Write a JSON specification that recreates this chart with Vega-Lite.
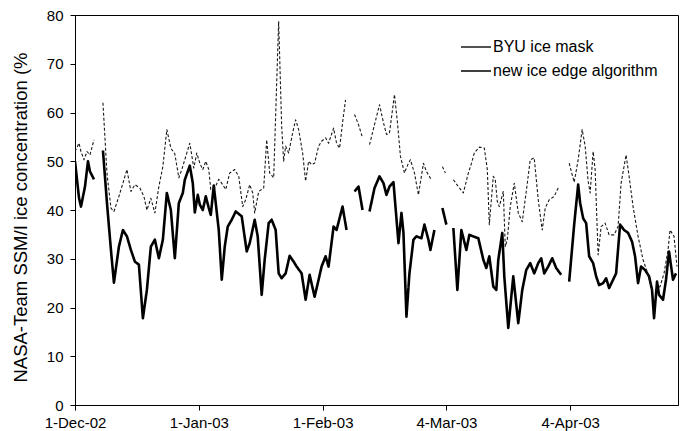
{
  "$schema": "https://vega.github.io/schema/vega-lite/v6.json",
  "width": 603,
  "height": 390,
  "autosize": {"type": "none"},
  "padding": {"left": 75, "top": 15, "right": 2, "bottom": 26},
  "background": "white",
  "config": {
    "font": "Liberation Sans",
    "view": {"stroke": "#000", "strokeWidth": 1},
    "axis": {
      "domainColor": "#000",
      "tickColor": "#000",
      "labelColor": "#000",
      "titleColor": "#000",
      "tickSize": 5,
      "labelFont": "Liberation Sans",
      "titleFont": "Liberation Sans",
      "labelFontSize": 15,
      "titleFontSize": 18.5,
      "titleFontWeight": "normal",
      "grid": false
    }
  },
  "data": {
    "values": [
      {"date": "2002-12-01T00:00", "series": "new ice edge algorithm", "value": 50},
      {"date": "2002-12-02T00:00", "series": "new ice edge algorithm", "value": 42.5},
      {"date": "2002-12-02T12:00", "series": "new ice edge algorithm", "value": 40.7},
      {"date": "2002-12-03T12:00", "series": "new ice edge algorithm", "value": 44.8},
      {"date": "2002-12-04T06:00", "series": "new ice edge algorithm", "value": 50},
      {"date": "2002-12-04T18:00", "series": "new ice edge algorithm", "value": 47.9},
      {"date": "2002-12-05T18:00", "series": "new ice edge algorithm", "value": 46.3},
      {"date": "2002-12-07T00:00", "series": "new ice edge algorithm", "value": null},
      {"date": "2002-12-08T00:00", "series": "new ice edge algorithm", "value": 52.2},
      {"date": "2002-12-09T00:00", "series": "new ice edge algorithm", "value": 41.5},
      {"date": "2002-12-10T00:00", "series": "new ice edge algorithm", "value": 31.8},
      {"date": "2002-12-10T18:00", "series": "new ice edge algorithm", "value": 25.1},
      {"date": "2002-12-12T00:00", "series": "new ice edge algorithm", "value": 32.5},
      {"date": "2002-12-13T00:00", "series": "new ice edge algorithm", "value": 35.9},
      {"date": "2002-12-14T00:00", "series": "new ice edge algorithm", "value": 34.6},
      {"date": "2002-12-15T00:00", "series": "new ice edge algorithm", "value": 31.8},
      {"date": "2002-12-16T00:00", "series": "new ice edge algorithm", "value": 29.4},
      {"date": "2002-12-17T00:00", "series": "new ice edge algorithm", "value": 28.8},
      {"date": "2002-12-18T00:00", "series": "new ice edge algorithm", "value": 17.8},
      {"date": "2002-12-19T00:00", "series": "new ice edge algorithm", "value": 23.6},
      {"date": "2002-12-20T00:00", "series": "new ice edge algorithm", "value": 32.5},
      {"date": "2002-12-21T00:00", "series": "new ice edge algorithm", "value": 33.9},
      {"date": "2002-12-22T00:00", "series": "new ice edge algorithm", "value": 30.1},
      {"date": "2002-12-23T00:00", "series": "new ice edge algorithm", "value": 33.9},
      {"date": "2002-12-24T00:00", "series": "new ice edge algorithm", "value": 43.5},
      {"date": "2002-12-25T00:00", "series": "new ice edge algorithm", "value": 40},
      {"date": "2002-12-26T00:00", "series": "new ice edge algorithm", "value": 30.1},
      {"date": "2002-12-27T00:00", "series": "new ice edge algorithm", "value": 41.4},
      {"date": "2002-12-28T00:00", "series": "new ice edge algorithm", "value": 43.5},
      {"date": "2002-12-28T12:00", "series": "new ice edge algorithm", "value": 46.2},
      {"date": "2002-12-29T18:00", "series": "new ice edge algorithm", "value": 49.1},
      {"date": "2002-12-30T12:00", "series": "new ice edge algorithm", "value": 45.5},
      {"date": "2002-12-31T00:00", "series": "new ice edge algorithm", "value": 39.5},
      {"date": "2002-12-31T18:00", "series": "new ice edge algorithm", "value": 43.1},
      {"date": "2003-01-01T06:00", "series": "new ice edge algorithm", "value": 41.1},
      {"date": "2003-01-02T00:00", "series": "new ice edge algorithm", "value": 40},
      {"date": "2003-01-02T18:00", "series": "new ice edge algorithm", "value": 42.8},
      {"date": "2003-01-03T12:00", "series": "new ice edge algorithm", "value": 40.4},
      {"date": "2003-01-04T00:00", "series": "new ice edge algorithm", "value": 39},
      {"date": "2003-01-04T18:00", "series": "new ice edge algorithm", "value": 45},
      {"date": "2003-01-06T00:00", "series": "new ice edge algorithm", "value": 35.9},
      {"date": "2003-01-06T18:00", "series": "new ice edge algorithm", "value": 25.7},
      {"date": "2003-01-07T12:00", "series": "new ice edge algorithm", "value": 32.5},
      {"date": "2003-01-08T06:00", "series": "new ice edge algorithm", "value": 36.6},
      {"date": "2003-01-09T06:00", "series": "new ice edge algorithm", "value": 38},
      {"date": "2003-01-10T06:00", "series": "new ice edge algorithm", "value": 39.7},
      {"date": "2003-01-11T18:00", "series": "new ice edge algorithm", "value": 38.7},
      {"date": "2003-01-13T00:00", "series": "new ice edge algorithm", "value": 31.5},
      {"date": "2003-01-13T18:00", "series": "new ice edge algorithm", "value": 33.2},
      {"date": "2003-01-15T00:00", "series": "new ice edge algorithm", "value": 38},
      {"date": "2003-01-15T18:00", "series": "new ice edge algorithm", "value": 34.6},
      {"date": "2003-01-16T18:00", "series": "new ice edge algorithm", "value": 22.6},
      {"date": "2003-01-17T12:00", "series": "new ice edge algorithm", "value": 29.8},
      {"date": "2003-01-18T12:00", "series": "new ice edge algorithm", "value": 37.3},
      {"date": "2003-01-19T06:00", "series": "new ice edge algorithm", "value": 38},
      {"date": "2003-01-20T06:00", "series": "new ice edge algorithm", "value": 35.9},
      {"date": "2003-01-21T00:00", "series": "new ice edge algorithm", "value": 27},
      {"date": "2003-01-21T18:00", "series": "new ice edge algorithm", "value": 26},
      {"date": "2003-01-22T18:00", "series": "new ice edge algorithm", "value": 27},
      {"date": "2003-01-23T18:00", "series": "new ice edge algorithm", "value": 30.6},
      {"date": "2003-01-24T18:00", "series": "new ice edge algorithm", "value": 29.4},
      {"date": "2003-01-25T12:00", "series": "new ice edge algorithm", "value": 28.4},
      {"date": "2003-01-26T18:00", "series": "new ice edge algorithm", "value": 27},
      {"date": "2003-01-27T18:00", "series": "new ice edge algorithm", "value": 21.6},
      {"date": "2003-01-28T18:00", "series": "new ice edge algorithm", "value": 26.7},
      {"date": "2003-01-30T00:00", "series": "new ice edge algorithm", "value": 22.2},
      {"date": "2003-01-31T00:00", "series": "new ice edge algorithm", "value": 25.7},
      {"date": "2003-01-31T18:00", "series": "new ice edge algorithm", "value": 28.4},
      {"date": "2003-02-01T18:00", "series": "new ice edge algorithm", "value": 30.5},
      {"date": "2003-02-02T12:00", "series": "new ice edge algorithm", "value": 28.4},
      {"date": "2003-02-03T18:00", "series": "new ice edge algorithm", "value": 36.6},
      {"date": "2003-02-04T12:00", "series": "new ice edge algorithm", "value": 35.9},
      {"date": "2003-02-06T00:00", "series": "new ice edge algorithm", "value": 40.7},
      {"date": "2003-02-07T00:00", "series": "new ice edge algorithm", "value": 35.9},
      {"date": "2003-02-08T00:00", "series": "new ice edge algorithm", "value": null},
      {"date": "2003-02-09T00:00", "series": "new ice edge algorithm", "value": 43.8},
      {"date": "2003-02-10T00:00", "series": "new ice edge algorithm", "value": 44.8},
      {"date": "2003-02-11T00:00", "series": "new ice edge algorithm", "value": 40},
      {"date": "2003-02-12T00:00", "series": "new ice edge algorithm", "value": null},
      {"date": "2003-02-12T18:00", "series": "new ice edge algorithm", "value": 39.7},
      {"date": "2003-02-14T00:00", "series": "new ice edge algorithm", "value": 44.5},
      {"date": "2003-02-15T06:00", "series": "new ice edge algorithm", "value": 46.9},
      {"date": "2003-02-16T06:00", "series": "new ice edge algorithm", "value": 45.5},
      {"date": "2003-02-17T00:00", "series": "new ice edge algorithm", "value": 43.1},
      {"date": "2003-02-17T18:00", "series": "new ice edge algorithm", "value": 44.8},
      {"date": "2003-02-18T18:00", "series": "new ice edge algorithm", "value": 45.7},
      {"date": "2003-02-19T06:00", "series": "new ice edge algorithm", "value": 40.7},
      {"date": "2003-02-20T00:00", "series": "new ice edge algorithm", "value": 33.2},
      {"date": "2003-02-20T18:00", "series": "new ice edge algorithm", "value": 39.4},
      {"date": "2003-02-21T06:00", "series": "new ice edge algorithm", "value": 35.3},
      {"date": "2003-02-22T00:00", "series": "new ice edge algorithm", "value": 18.1},
      {"date": "2003-02-22T18:00", "series": "new ice edge algorithm", "value": 27},
      {"date": "2003-02-23T18:00", "series": "new ice edge algorithm", "value": 33.9},
      {"date": "2003-02-24T12:00", "series": "new ice edge algorithm", "value": 34.6},
      {"date": "2003-02-25T18:00", "series": "new ice edge algorithm", "value": 34.2},
      {"date": "2003-02-26T12:00", "series": "new ice edge algorithm", "value": 37},
      {"date": "2003-02-27T12:00", "series": "new ice edge algorithm", "value": 33.9},
      {"date": "2003-02-28T00:00", "series": "new ice edge algorithm", "value": 31.8},
      {"date": "2003-03-01T00:00", "series": "new ice edge algorithm", "value": 35.9},
      {"date": "2003-03-02T00:00", "series": "new ice edge algorithm", "value": null},
      {"date": "2003-03-03T00:00", "series": "new ice edge algorithm", "value": 40.4},
      {"date": "2003-03-04T00:00", "series": "new ice edge algorithm", "value": 37},
      {"date": "2003-03-05T00:00", "series": "new ice edge algorithm", "value": null},
      {"date": "2003-03-05T18:00", "series": "new ice edge algorithm", "value": 36.3},
      {"date": "2003-03-06T18:00", "series": "new ice edge algorithm", "value": 23.6},
      {"date": "2003-03-07T18:00", "series": "new ice edge algorithm", "value": 35.9},
      {"date": "2003-03-09T00:00", "series": "new ice edge algorithm", "value": 31.8},
      {"date": "2003-03-09T18:00", "series": "new ice edge algorithm", "value": 34.9},
      {"date": "2003-03-11T00:00", "series": "new ice edge algorithm", "value": 34.5},
      {"date": "2003-03-12T00:00", "series": "new ice edge algorithm", "value": 34.2},
      {"date": "2003-03-13T06:00", "series": "new ice edge algorithm", "value": 29.8},
      {"date": "2003-03-14T00:00", "series": "new ice edge algorithm", "value": 28.1},
      {"date": "2003-03-14T18:00", "series": "new ice edge algorithm", "value": 30.5},
      {"date": "2003-03-15T18:00", "series": "new ice edge algorithm", "value": 24.3},
      {"date": "2003-03-16T12:00", "series": "new ice edge algorithm", "value": 23.6},
      {"date": "2003-03-17T00:00", "series": "new ice edge algorithm", "value": 29.8},
      {"date": "2003-03-18T00:00", "series": "new ice edge algorithm", "value": 35.3},
      {"date": "2003-03-18T12:00", "series": "new ice edge algorithm", "value": 26.4},
      {"date": "2003-03-19T12:00", "series": "new ice edge algorithm", "value": 15.8},
      {"date": "2003-03-20T18:00", "series": "new ice edge algorithm", "value": 26.4},
      {"date": "2003-03-22T00:00", "series": "new ice edge algorithm", "value": 16.8},
      {"date": "2003-03-23T00:00", "series": "new ice edge algorithm", "value": 23.6},
      {"date": "2003-03-24T00:00", "series": "new ice edge algorithm", "value": 27.7},
      {"date": "2003-03-25T00:00", "series": "new ice edge algorithm", "value": 29.1},
      {"date": "2003-03-26T00:00", "series": "new ice edge algorithm", "value": 27},
      {"date": "2003-03-27T00:00", "series": "new ice edge algorithm", "value": 29.1},
      {"date": "2003-03-27T18:00", "series": "new ice edge algorithm", "value": 30.1},
      {"date": "2003-03-28T12:00", "series": "new ice edge algorithm", "value": 27},
      {"date": "2003-03-29T12:00", "series": "new ice edge algorithm", "value": 28.4},
      {"date": "2003-03-30T12:00", "series": "new ice edge algorithm", "value": 30.1},
      {"date": "2003-03-31T12:00", "series": "new ice edge algorithm", "value": 28.1},
      {"date": "2003-04-01T18:00", "series": "new ice edge algorithm", "value": 26.7},
      {"date": "2003-04-02T18:00", "series": "new ice edge algorithm", "value": null},
      {"date": "2003-04-03T18:00", "series": "new ice edge algorithm", "value": 25.3},
      {"date": "2003-04-05T00:00", "series": "new ice edge algorithm", "value": 37},
      {"date": "2003-04-06T00:00", "series": "new ice edge algorithm", "value": 45.2},
      {"date": "2003-04-06T12:00", "series": "new ice edge algorithm", "value": 41.4},
      {"date": "2003-04-07T06:00", "series": "new ice edge algorithm", "value": 38.3},
      {"date": "2003-04-08T00:00", "series": "new ice edge algorithm", "value": 37.3},
      {"date": "2003-04-08T18:00", "series": "new ice edge algorithm", "value": 30.5},
      {"date": "2003-04-09T18:00", "series": "new ice edge algorithm", "value": 29.1},
      {"date": "2003-04-10T12:00", "series": "new ice edge algorithm", "value": 26.4},
      {"date": "2003-04-11T06:00", "series": "new ice edge algorithm", "value": 24.6},
      {"date": "2003-04-12T06:00", "series": "new ice edge algorithm", "value": 25},
      {"date": "2003-04-13T00:00", "series": "new ice edge algorithm", "value": 26},
      {"date": "2003-04-13T18:00", "series": "new ice edge algorithm", "value": 24},
      {"date": "2003-04-14T18:00", "series": "new ice edge algorithm", "value": 25.7},
      {"date": "2003-04-15T12:00", "series": "new ice edge algorithm", "value": 27},
      {"date": "2003-04-16T12:00", "series": "new ice edge algorithm", "value": 37},
      {"date": "2003-04-17T12:00", "series": "new ice edge algorithm", "value": 35.9},
      {"date": "2003-04-18T12:00", "series": "new ice edge algorithm", "value": 35.3},
      {"date": "2003-04-19T12:00", "series": "new ice edge algorithm", "value": 33.5},
      {"date": "2003-04-20T06:00", "series": "new ice edge algorithm", "value": 30.5},
      {"date": "2003-04-21T00:00", "series": "new ice edge algorithm", "value": 25},
      {"date": "2003-04-21T18:00", "series": "new ice edge algorithm", "value": 28.4},
      {"date": "2003-04-22T18:00", "series": "new ice edge algorithm", "value": 27.7},
      {"date": "2003-04-23T18:00", "series": "new ice edge algorithm", "value": 26.4},
      {"date": "2003-04-24T12:00", "series": "new ice edge algorithm", "value": 23.6},
      {"date": "2003-04-25T00:00", "series": "new ice edge algorithm", "value": 17.8},
      {"date": "2003-04-25T18:00", "series": "new ice edge algorithm", "value": 25.3},
      {"date": "2003-04-26T06:00", "series": "new ice edge algorithm", "value": 22.6},
      {"date": "2003-04-27T06:00", "series": "new ice edge algorithm", "value": 21.6},
      {"date": "2003-04-28T00:00", "series": "new ice edge algorithm", "value": 25.7},
      {"date": "2003-04-28T18:00", "series": "new ice edge algorithm", "value": 31.5},
      {"date": "2003-04-29T18:00", "series": "new ice edge algorithm", "value": 25.7},
      {"date": "2003-04-30T12:00", "series": "new ice edge algorithm", "value": 27},

      {"date": "2002-12-01T00:00", "series": "BYU ice mask", "value": 52},
      {"date": "2002-12-02T00:00", "series": "BYU ice mask", "value": 53.7},
      {"date": "2002-12-02T12:00", "series": "BYU ice mask", "value": 52},
      {"date": "2002-12-03T06:00", "series": "BYU ice mask", "value": 50.3},
      {"date": "2002-12-04T00:00", "series": "BYU ice mask", "value": 52},
      {"date": "2002-12-04T18:00", "series": "BYU ice mask", "value": 51.3},
      {"date": "2002-12-05T18:00", "series": "BYU ice mask", "value": 54.4},
      {"date": "2002-12-07T00:00", "series": "BYU ice mask", "value": null},
      {"date": "2002-12-08T00:00", "series": "BYU ice mask", "value": 62},
      {"date": "2002-12-09T00:00", "series": "BYU ice mask", "value": 47.6},
      {"date": "2002-12-10T00:00", "series": "BYU ice mask", "value": 40.4},
      {"date": "2002-12-10T18:00", "series": "BYU ice mask", "value": 39.7},
      {"date": "2002-12-12T00:00", "series": "BYU ice mask", "value": 42.8},
      {"date": "2002-12-13T00:00", "series": "BYU ice mask", "value": 45.5},
      {"date": "2002-12-14T00:00", "series": "BYU ice mask", "value": 48.3},
      {"date": "2002-12-15T00:00", "series": "BYU ice mask", "value": 43.8},
      {"date": "2002-12-16T00:00", "series": "BYU ice mask", "value": 45.2},
      {"date": "2002-12-17T06:00", "series": "BYU ice mask", "value": 44.5},
      {"date": "2002-12-18T06:00", "series": "BYU ice mask", "value": 42.8},
      {"date": "2002-12-19T00:00", "series": "BYU ice mask", "value": 40},
      {"date": "2002-12-20T00:00", "series": "BYU ice mask", "value": 42.4},
      {"date": "2002-12-21T00:00", "series": "BYU ice mask", "value": 39.4},
      {"date": "2002-12-22T00:00", "series": "BYU ice mask", "value": 44.8},
      {"date": "2002-12-23T00:00", "series": "BYU ice mask", "value": 48.9},
      {"date": "2002-12-24T00:00", "series": "BYU ice mask", "value": 56.5},
      {"date": "2002-12-25T00:00", "series": "BYU ice mask", "value": 52.7},
      {"date": "2002-12-26T00:00", "series": "BYU ice mask", "value": 51.5},
      {"date": "2002-12-27T00:00", "series": "BYU ice mask", "value": 46.6},
      {"date": "2002-12-27T18:00", "series": "BYU ice mask", "value": 48.3},
      {"date": "2002-12-29T00:00", "series": "BYU ice mask", "value": 51.7},
      {"date": "2002-12-29T18:00", "series": "BYU ice mask", "value": 53.7},
      {"date": "2002-12-30T18:00", "series": "BYU ice mask", "value": 48.6},
      {"date": "2002-12-31T12:00", "series": "BYU ice mask", "value": 51.7},
      {"date": "2003-01-01T06:00", "series": "BYU ice mask", "value": 49.6},
      {"date": "2003-01-02T00:00", "series": "BYU ice mask", "value": 48.3},
      {"date": "2003-01-02T18:00", "series": "BYU ice mask", "value": 50},
      {"date": "2003-01-03T12:00", "series": "BYU ice mask", "value": 48.3},
      {"date": "2003-01-04T00:00", "series": "BYU ice mask", "value": 44.2},
      {"date": "2003-01-05T00:00", "series": "BYU ice mask", "value": 44.5},
      {"date": "2003-01-06T00:00", "series": "BYU ice mask", "value": 46.3},
      {"date": "2003-01-07T00:00", "series": "BYU ice mask", "value": 45.2},
      {"date": "2003-01-07T18:00", "series": "BYU ice mask", "value": 44.2},
      {"date": "2003-01-08T18:00", "series": "BYU ice mask", "value": 47.6},
      {"date": "2003-01-10T00:00", "series": "BYU ice mask", "value": 48.3},
      {"date": "2003-01-11T00:00", "series": "BYU ice mask", "value": 46.9},
      {"date": "2003-01-12T00:00", "series": "BYU ice mask", "value": 40.7},
      {"date": "2003-01-12T18:00", "series": "BYU ice mask", "value": 42.1},
      {"date": "2003-01-13T18:00", "series": "BYU ice mask", "value": 45.2},
      {"date": "2003-01-14T12:00", "series": "BYU ice mask", "value": 43.5},
      {"date": "2003-01-15T00:00", "series": "BYU ice mask", "value": 39.4},
      {"date": "2003-01-16T00:00", "series": "BYU ice mask", "value": 43.8},
      {"date": "2003-01-17T06:00", "series": "BYU ice mask", "value": 44.5},
      {"date": "2003-01-18T00:00", "series": "BYU ice mask", "value": 54.4},
      {"date": "2003-01-18T18:00", "series": "BYU ice mask", "value": 47.6},
      {"date": "2003-01-19T18:00", "series": "BYU ice mask", "value": 46.6},
      {"date": "2003-01-21T00:00", "series": "BYU ice mask", "value": 78.7},
      {"date": "2003-01-21T18:00", "series": "BYU ice mask", "value": 57.2},
      {"date": "2003-01-22T06:00", "series": "BYU ice mask", "value": 50},
      {"date": "2003-01-22T18:00", "series": "BYU ice mask", "value": 53.1},
      {"date": "2003-01-23T12:00", "series": "BYU ice mask", "value": 51.7},
      {"date": "2003-01-24T12:00", "series": "BYU ice mask", "value": 55.8},
      {"date": "2003-01-25T06:00", "series": "BYU ice mask", "value": 58.5},
      {"date": "2003-01-26T00:00", "series": "BYU ice mask", "value": 56.5},
      {"date": "2003-01-27T00:00", "series": "BYU ice mask", "value": 51.7},
      {"date": "2003-01-27T18:00", "series": "BYU ice mask", "value": 45.9},
      {"date": "2003-01-28T12:00", "series": "BYU ice mask", "value": 50},
      {"date": "2003-01-29T06:00", "series": "BYU ice mask", "value": 49.3},
      {"date": "2003-01-30T00:00", "series": "BYU ice mask", "value": 49.6},
      {"date": "2003-01-31T00:00", "series": "BYU ice mask", "value": 53.1},
      {"date": "2003-01-31T18:00", "series": "BYU ice mask", "value": 54.1},
      {"date": "2003-02-01T18:00", "series": "BYU ice mask", "value": 54.8},
      {"date": "2003-02-02T12:00", "series": "BYU ice mask", "value": 53.7},
      {"date": "2003-02-03T18:00", "series": "BYU ice mask", "value": 56.8},
      {"date": "2003-02-04T12:00", "series": "BYU ice mask", "value": 53.7},
      {"date": "2003-02-05T06:00", "series": "BYU ice mask", "value": 52.7},
      {"date": "2003-02-06T00:00", "series": "BYU ice mask", "value": 57.9},
      {"date": "2003-02-06T18:00", "series": "BYU ice mask", "value": 62.6},
      {"date": "2003-02-08T00:00", "series": "BYU ice mask", "value": null},
      {"date": "2003-02-09T00:00", "series": "BYU ice mask", "value": 59.6},
      {"date": "2003-02-10T00:00", "series": "BYU ice mask", "value": 57.5},
      {"date": "2003-02-11T00:00", "series": "BYU ice mask", "value": 54.8},
      {"date": "2003-02-12T00:00", "series": "BYU ice mask", "value": null},
      {"date": "2003-02-12T18:00", "series": "BYU ice mask", "value": 53.4},
      {"date": "2003-02-14T00:00", "series": "BYU ice mask", "value": 57.5},
      {"date": "2003-02-15T06:00", "series": "BYU ice mask", "value": 61.6},
      {"date": "2003-02-16T06:00", "series": "BYU ice mask", "value": 57.9},
      {"date": "2003-02-17T00:00", "series": "BYU ice mask", "value": 55.5},
      {"date": "2003-02-17T18:00", "series": "BYU ice mask", "value": 55.8},
      {"date": "2003-02-19T00:00", "series": "BYU ice mask", "value": 63.7},
      {"date": "2003-02-19T18:00", "series": "BYU ice mask", "value": 57.9},
      {"date": "2003-02-20T12:00", "series": "BYU ice mask", "value": 51},
      {"date": "2003-02-21T12:00", "series": "BYU ice mask", "value": 47.6},
      {"date": "2003-02-22T12:00", "series": "BYU ice mask", "value": 49.6},
      {"date": "2003-02-23T00:00", "series": "BYU ice mask", "value": 50.3},
      {"date": "2003-02-24T00:00", "series": "BYU ice mask", "value": 47.6},
      {"date": "2003-02-25T00:00", "series": "BYU ice mask", "value": 43.1},
      {"date": "2003-02-26T06:00", "series": "BYU ice mask", "value": 49.6},
      {"date": "2003-02-27T00:00", "series": "BYU ice mask", "value": 47.9},
      {"date": "2003-02-28T06:00", "series": "BYU ice mask", "value": 46.2},
      {"date": "2003-03-02T00:00", "series": "BYU ice mask", "value": null},
      {"date": "2003-03-03T00:00", "series": "BYU ice mask", "value": 48.9},
      {"date": "2003-03-03T18:00", "series": "BYU ice mask", "value": 47.6},
      {"date": "2003-03-04T18:00", "series": "BYU ice mask", "value": null},
      {"date": "2003-03-05T18:00", "series": "BYU ice mask", "value": 46.2},
      {"date": "2003-03-07T00:00", "series": "BYU ice mask", "value": 44.8},
      {"date": "2003-03-08T06:00", "series": "BYU ice mask", "value": 43.5},
      {"date": "2003-03-09T12:00", "series": "BYU ice mask", "value": 47.6},
      {"date": "2003-03-10T06:00", "series": "BYU ice mask", "value": 49.5},
      {"date": "2003-03-11T00:00", "series": "BYU ice mask", "value": 51.7},
      {"date": "2003-03-12T06:00", "series": "BYU ice mask", "value": 52.9},
      {"date": "2003-03-13T12:00", "series": "BYU ice mask", "value": 52.7},
      {"date": "2003-03-14T06:00", "series": "BYU ice mask", "value": 48.3},
      {"date": "2003-03-14T18:00", "series": "BYU ice mask", "value": 37},
      {"date": "2003-03-15T18:00", "series": "BYU ice mask", "value": 46.9},
      {"date": "2003-03-16T06:00", "series": "BYU ice mask", "value": 46.2},
      {"date": "2003-03-16T18:00", "series": "BYU ice mask", "value": 41.8},
      {"date": "2003-03-17T06:00", "series": "BYU ice mask", "value": 40.7},
      {"date": "2003-03-18T06:00", "series": "BYU ice mask", "value": 43.8},
      {"date": "2003-03-18T18:00", "series": "BYU ice mask", "value": 32.5},
      {"date": "2003-03-19T06:00", "series": "BYU ice mask", "value": 33.9},
      {"date": "2003-03-20T00:00", "series": "BYU ice mask", "value": 40.7},
      {"date": "2003-03-21T00:00", "series": "BYU ice mask", "value": 45.5},
      {"date": "2003-03-22T00:00", "series": "BYU ice mask", "value": 39.4},
      {"date": "2003-03-23T00:00", "series": "BYU ice mask", "value": 37.6},
      {"date": "2003-03-24T00:00", "series": "BYU ice mask", "value": 43.8},
      {"date": "2003-03-25T00:00", "series": "BYU ice mask", "value": 50.3},
      {"date": "2003-03-26T00:00", "series": "BYU ice mask", "value": 50.7},
      {"date": "2003-03-27T00:00", "series": "BYU ice mask", "value": 42.1},
      {"date": "2003-03-28T00:00", "series": "BYU ice mask", "value": 35.9},
      {"date": "2003-03-28T18:00", "series": "BYU ice mask", "value": 40.4},
      {"date": "2003-03-29T18:00", "series": "BYU ice mask", "value": 42.1},
      {"date": "2003-03-31T00:00", "series": "BYU ice mask", "value": 42.8},
      {"date": "2003-04-01T00:00", "series": "BYU ice mask", "value": 44.5},
      {"date": "2003-04-02T12:00", "series": "BYU ice mask", "value": null},
      {"date": "2003-04-03T18:00", "series": "BYU ice mask", "value": 49.6},
      {"date": "2003-04-05T00:00", "series": "BYU ice mask", "value": 45.7},
      {"date": "2003-04-06T00:00", "series": "BYU ice mask", "value": 50.3},
      {"date": "2003-04-07T00:00", "series": "BYU ice mask", "value": 56.5},
      {"date": "2003-04-07T18:00", "series": "BYU ice mask", "value": 53.1},
      {"date": "2003-04-08T12:00", "series": "BYU ice mask", "value": 45.9},
      {"date": "2003-04-09T00:00", "series": "BYU ice mask", "value": 43.5},
      {"date": "2003-04-09T18:00", "series": "BYU ice mask", "value": 52},
      {"date": "2003-04-10T06:00", "series": "BYU ice mask", "value": 48.3},
      {"date": "2003-04-11T00:00", "series": "BYU ice mask", "value": 30.8},
      {"date": "2003-04-11T18:00", "series": "BYU ice mask", "value": 36.6},
      {"date": "2003-04-12T18:00", "series": "BYU ice mask", "value": 37.3},
      {"date": "2003-04-13T18:00", "series": "BYU ice mask", "value": 34.9},
      {"date": "2003-04-15T00:00", "series": "BYU ice mask", "value": 34.9},
      {"date": "2003-04-16T00:00", "series": "BYU ice mask", "value": 36.6},
      {"date": "2003-04-16T18:00", "series": "BYU ice mask", "value": 45.5},
      {"date": "2003-04-18T00:00", "series": "BYU ice mask", "value": 51.3},
      {"date": "2003-04-18T18:00", "series": "BYU ice mask", "value": 46.9},
      {"date": "2003-04-19T18:00", "series": "BYU ice mask", "value": 40.7},
      {"date": "2003-04-21T00:00", "series": "BYU ice mask", "value": 34.6},
      {"date": "2003-04-22T06:00", "series": "BYU ice mask", "value": 29.8},
      {"date": "2003-04-23T06:00", "series": "BYU ice mask", "value": 27.4},
      {"date": "2003-04-24T12:00", "series": "BYU ice mask", "value": 23.6},
      {"date": "2003-04-25T12:00", "series": "BYU ice mask", "value": 23.6},
      {"date": "2003-04-26T12:00", "series": "BYU ice mask", "value": 24.3},
      {"date": "2003-04-27T12:00", "series": "BYU ice mask", "value": 27},
      {"date": "2003-04-28T12:00", "series": "BYU ice mask", "value": 31.8},
      {"date": "2003-04-29T00:00", "series": "BYU ice mask", "value": 35.9},
      {"date": "2003-04-30T00:00", "series": "BYU ice mask", "value": 34.6},
      {"date": "2003-04-30T18:00", "series": "BYU ice mask", "value": 28.4}
    ]
  },
  "mark": {"type": "line", "invalid": "break-paths-show-domains", "strokeJoin": "round", "clip": true},
  "encoding": {
    "x": {
      "field": "date",
      "type": "temporal",
      "scale": {"domain": [{"year": 2002, "month": 12, "date": 1}, {"year": 2003, "month": 5, "date": 1}]},
      "axis": {
        "title": null,
        "format": "%-d-%b-%y",
        "values": [
          {"year": 2002, "month": 12, "date": 1},
          {"year": 2003, "month": 1, "date": 1},
          {"year": 2003, "month": 2, "date": 1},
          {"year": 2003, "month": 3, "date": 4},
          {"year": 2003, "month": 4, "date": 4}
        ],
        "labelPadding": 5,
        "labelFlush": false,
        "labelOverlap": false
      }
    },
    "y": {
      "field": "value",
      "type": "quantitative",
      "scale": {"domain": [0, 80], "nice": false},
      "axis": {
        "title": "NASA-Team SSM/I ice concentration (%",
        "values": [0, 10, 20, 30, 40, 50, 60, 70, 80],
        "labelPadding": 7,
        "titlePadding": 16,
        "titleY": 202
      }
    },
    "color": {
      "field": "series",
      "type": "nominal",
      "sort": ["BYU ice mask", "new ice edge algorithm"],
      "scale": {"range": ["#1a1a1a", "#000000"]},
      "legend": {
        "title": null,
        "orient": "none",
        "legendX": 385,
        "legendY": 16,
        "symbolType": "stroke",
        "symbolSize": 900,
        "labelFontSize": 16,
        "labelColor": "#000",
        "labelFont": "Liberation Sans",
        "labelLimit": 175,
        "rowPadding": -3,
        "labelOffset": 1
      }
    },
    "strokeDash": {
      "field": "series",
      "type": "nominal",
      "sort": ["BYU ice mask", "new ice edge algorithm"],
      "scale": {"range": [[3, 2], [1, 0]]}
    },
    "strokeWidth": {
      "field": "series",
      "type": "nominal",
      "sort": ["BYU ice mask", "new ice edge algorithm"],
      "scale": {"type": "point", "padding": 0, "range": [1.1, 2.6]}
    }
  }
}
